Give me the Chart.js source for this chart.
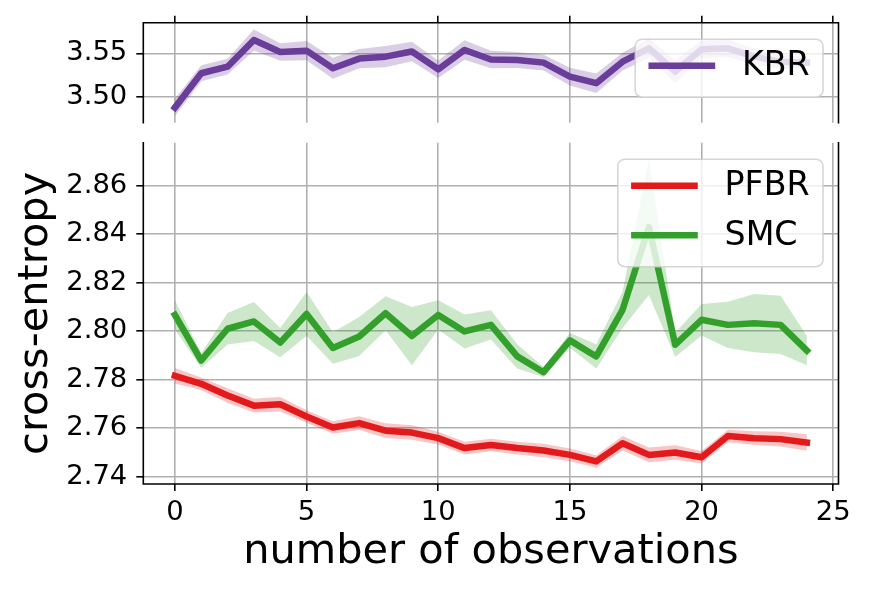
<!DOCTYPE html>
<html>
<head>
<meta charset="utf-8">
<script src="https://cdn.jsdelivr.net/npm/chart.js@4.4.1/dist/chart.umd.min.js"></script>
<style>
  html, body { margin: 0; padding: 0; background: #fff; }
  #wrap { position: relative; width: 869px; height: 591px; }
  #wrap canvas { position: absolute; left: 0; }
  #topChart { top: 0; }
  #bottomChart { top: 125px; }
</style>
</head>
<body>
<div id="wrap">
  <canvas id="bottomChart" width="869" height="466"></canvas>
  <canvas id="topChart" width="869" height="140"></canvas>
</div>
<script>
/* ===== data ===== */
const steps = [0, 1, 2, 3, 4, 5, 6, 7, 8, 9, 10, 11, 12, 13, 14, 15, 16, 17, 18, 19, 20, 21, 22, 23, 24];

const kbrMean = [3.4883, 3.5273, 3.5348, 3.5652, 3.5515, 3.5530, 3.5330, 3.5440, 3.5462, 3.5520,
                 3.5318, 3.5538, 3.5430, 3.5424, 3.5394, 3.5235, 3.5160, 3.5405, 3.5557, 3.5292,
                 3.5545, 3.5557, 3.5462, 3.5405, 3.5394];
const kbrStd  = [0.010, 0.009, 0.009, 0.012, 0.010, 0.011, 0.012, 0.011, 0.012, 0.011,
                 0.010, 0.011, 0.010, 0.009, 0.009, 0.010, 0.011, 0.010, 0.011, 0.013,
                 0.010, 0.010, 0.009, 0.008, 0.007];

const pfbrMean = [2.7816, 2.7783, 2.7735, 2.7693, 2.7699, 2.7648, 2.7603, 2.7621, 2.7590, 2.7582,
                  2.7559, 2.7518, 2.7531, 2.7518, 2.7508, 2.7490, 2.7463, 2.7538, 2.7490, 2.7500,
                  2.7480, 2.7568, 2.7559, 2.7555, 2.7541];
const pfbrStd  = [0.0032, 0.0026, 0.0030, 0.0028, 0.0030, 0.0026, 0.0026, 0.0028, 0.0030, 0.0030,
                  0.0026, 0.0026, 0.0026, 0.0026, 0.0028, 0.0026, 0.0026, 0.0030, 0.0030, 0.0030,
                  0.0026, 0.0026, 0.0028, 0.0030, 0.0034];

const smcMean = [2.8067, 2.7879, 2.8010, 2.8040, 2.7953, 2.8071, 2.7931, 2.7978, 2.8074, 2.7980,
                 2.8067, 2.7999, 2.8026, 2.7896, 2.7831, 2.7962, 2.7896, 2.8088, 2.8429, 2.7944,
                 2.8047, 2.8026, 2.8033, 2.8026, 2.7920];
const smcStd  = [0.0060, 0.0030, 0.0065, 0.0080, 0.0060, 0.0090, 0.0065, 0.0080, 0.0070, 0.0120,
                 0.0060, 0.0070, 0.0060, 0.0050, 0.0020, 0.0030, 0.0050, 0.0075, 0.0280, 0.0050,
                 0.0065, 0.0095, 0.0120, 0.0120, 0.0060];

const xTicks = [0, 5, 10, 15, 20, 25];
const topYTicks = [3.50, 3.55];
const bottomYTicks = [2.74, 2.76, 2.78, 2.80, 2.82, 2.84, 2.86];

/* ===== helpers ===== */
const FONT = "'DejaVu Sans', sans-serif";
const GRID = "#b0b0b0";

const pts = vals => steps.map((x, i) => ({ x, y: vals[i] }));

function series(label, color, band, mean, std) {
  return [
    { data: pts(mean.map((m, i) => m + std[i])), isBand: true, borderWidth: 0, pointRadius: 0, fill: false, order: 1 },
    { data: pts(mean.map((m, i) => m - std[i])), isBand: true, borderWidth: 0, pointRadius: 0, fill: "-1", backgroundColor: band, order: 1 },
    { label, data: pts(mean), borderColor: color, borderWidth: 6.5, pointRadius: 0, tension: 0,
      borderJoinStyle: "round", borderCapStyle: "square", fill: false, order: 0 },
  ];
}

// matplotlib-like axes frame
const spines = {
  id: "spines",
  afterDatasetsDraw(chart, args, opts) {
    const { ctx, chartArea: a } = chart;
    ctx.save();
    ctx.strokeStyle = "#000";
    ctx.lineWidth = 1.6;
    ctx.lineCap = "square";
    ctx.beginPath();
    if (opts.sides.includes("top"))    { ctx.moveTo(a.left, a.top);    ctx.lineTo(a.right, a.top); }
    if (opts.sides.includes("bottom")) { ctx.moveTo(a.left, a.bottom); ctx.lineTo(a.right, a.bottom); }
    if (opts.sides.includes("left"))   { ctx.moveTo(a.left, a.top);    ctx.lineTo(a.left, a.bottom); }
    if (opts.sides.includes("right"))  { ctx.moveTo(a.right, a.top);   ctx.lineTo(a.right, a.bottom); }
    ctx.stroke();
    ctx.restore();
  },
};

// legend boxed inside the upper right corner
const innerLegend = {
  id: "innerLegend",
  afterDraw(chart) {
    const { ctx, chartArea: a } = chart;
    const items = chart.data.datasets.filter(d => !d.isBand);
    const fs = 33.3, pad = 13.3, handle = 66.7, gap = 26.7, row = 49.5;
    ctx.save();
    ctx.font = `${fs}px ${FONT}`;
    const textW = Math.max(...items.map(d => ctx.measureText(d.label).width));
    const w = pad + handle + gap + textW + pad;
    const h = 58 + (items.length - 1) * row;
    const right = a.right - 15.5, top = a.top + 16.5, left = right - w;

    ctx.beginPath();
    ctx.roundRect(left, top, w, h, 7);
    ctx.fillStyle = "rgba(255,255,255,0.8)";
    ctx.fill();
    ctx.strokeStyle = "rgba(204,204,204,0.8)";
    ctx.lineWidth = 1.6;
    ctx.stroke();

    items.forEach((d, i) => {
      const cy = top + 26.5 + i * row;
      ctx.beginPath();
      ctx.moveTo(left + pad, cy);
      ctx.lineTo(left + pad + handle, cy);
      ctx.strokeStyle = d.borderColor;
      ctx.lineWidth = 6.5;
      ctx.lineCap = "butt";
      ctx.stroke();
      ctx.fillStyle = "#000";
      ctx.textBaseline = "middle";
      ctx.textAlign = "left";
      ctx.fillText(d.label, left + pad + handle + gap, cy + 1);
    });
    ctx.restore();
  },
};

const setTicks = vals => scale => { scale.ticks = vals.map(value => ({ value })); };

// fixed axis sizes, and no extra room asked for the edge labels
const fixWidth = w => s => { s.width = w; s.paddingTop = 0; s.paddingBottom = 0; };
const fixHeight = h => s => { s.height = h; s.paddingLeft = 0; s.paddingRight = 0; };

const gridOpts = { color: GRID, lineWidth: 1.6, tickColor: "#000", tickWidth: 1.6, tickLength: 7 };
const tickFont = { family: FONT, size: 27.4 };

/* ===== KBR panel (upper) ===== */
new Chart(document.getElementById("topChart"), {
  type: "line",
  data: { datasets: series("KBR", "#6a3d9a", "rgba(106,61,154,0.25)", kbrMean, kbrStd) },
  options: {
    responsive: false,
    devicePixelRatio: 1,
    animation: false,
    layout: { padding: { left: 0, right: 30.5, top: 15, bottom: 17.3 } },
    plugins: { legend: { display: false }, tooltip: { enabled: false }, spines: { sides: ["top", "left", "right"] } },
    scales: {
      x: {
        type: "linear", position: "top", min: -1.2, max: 25.2,
        afterBuildTicks: setTicks(xTicks),
        afterFit: fixHeight(7.7),
        ticks: { display: false },
        grid: gridOpts,
        border: { display: false },
      },
      y: {
        min: 3.4711, max: 3.5848,
        afterBuildTicks: setTicks(topYTicks),
        afterFit: fixWidth(143.3),
        ticks: { color: "#000", font: tickFont, padding: 9, callback: v => v.toFixed(2) },
        grid: gridOpts,
        border: { display: false },
      },
    },
  },
  plugins: [spines, innerLegend],
});

/* ===== PFBR / SMC panel (lower) ===== */
new Chart(document.getElementById("bottomChart"), {
  type: "line",
  data: {
    datasets: [
      ...series("PFBR", "#e31a1c", "rgba(227,26,28,0.25)", pfbrMean, pfbrStd),
      ...series("SMC", "#33a02c", "rgba(51,160,44,0.25)", smcMean, smcStd),
    ],
  },
  options: {
    responsive: false,
    devicePixelRatio: 1,
    animation: false,
    layout: { padding: { left: 0, right: 30.5, top: 17.7, bottom: 0 } },
    plugins: { legend: { display: false }, tooltip: { enabled: false }, spines: { sides: ["bottom", "left", "right"] } },
    scales: {
      x: {
        type: "linear", position: "bottom", min: -1.2, max: 25.2,
        afterBuildTicks: setTicks(xTicks),
        afterFit: fixHeight(107),
        ticks: { color: "#000", font: tickFont, padding: 5, maxRotation: 0 },
        grid: gridOpts,
        border: { display: false },
        title: { display: true, text: "number of observations", color: "#000",
                 font: { family: FONT, size: 41.5 }, padding: { top: 0, bottom: 13.4 } },
      },
      y: {
        min: 2.737, max: 2.8777,
        afterBuildTicks: setTicks(bottomYTicks),
        afterFit: fixWidth(143.3),
        ticks: { color: "#000", font: tickFont, padding: 9, callback: v => v.toFixed(2) },
        grid: gridOpts,
        border: { display: false },
        title: { display: true, text: "cross-entropy", color: "#000",
                 font: { family: FONT, size: 41.5 }, padding: { top: 11.5, bottom: 0 } },
      },
    },
  },
  plugins: [spines, innerLegend],
});
</script>
</body>
</html>
